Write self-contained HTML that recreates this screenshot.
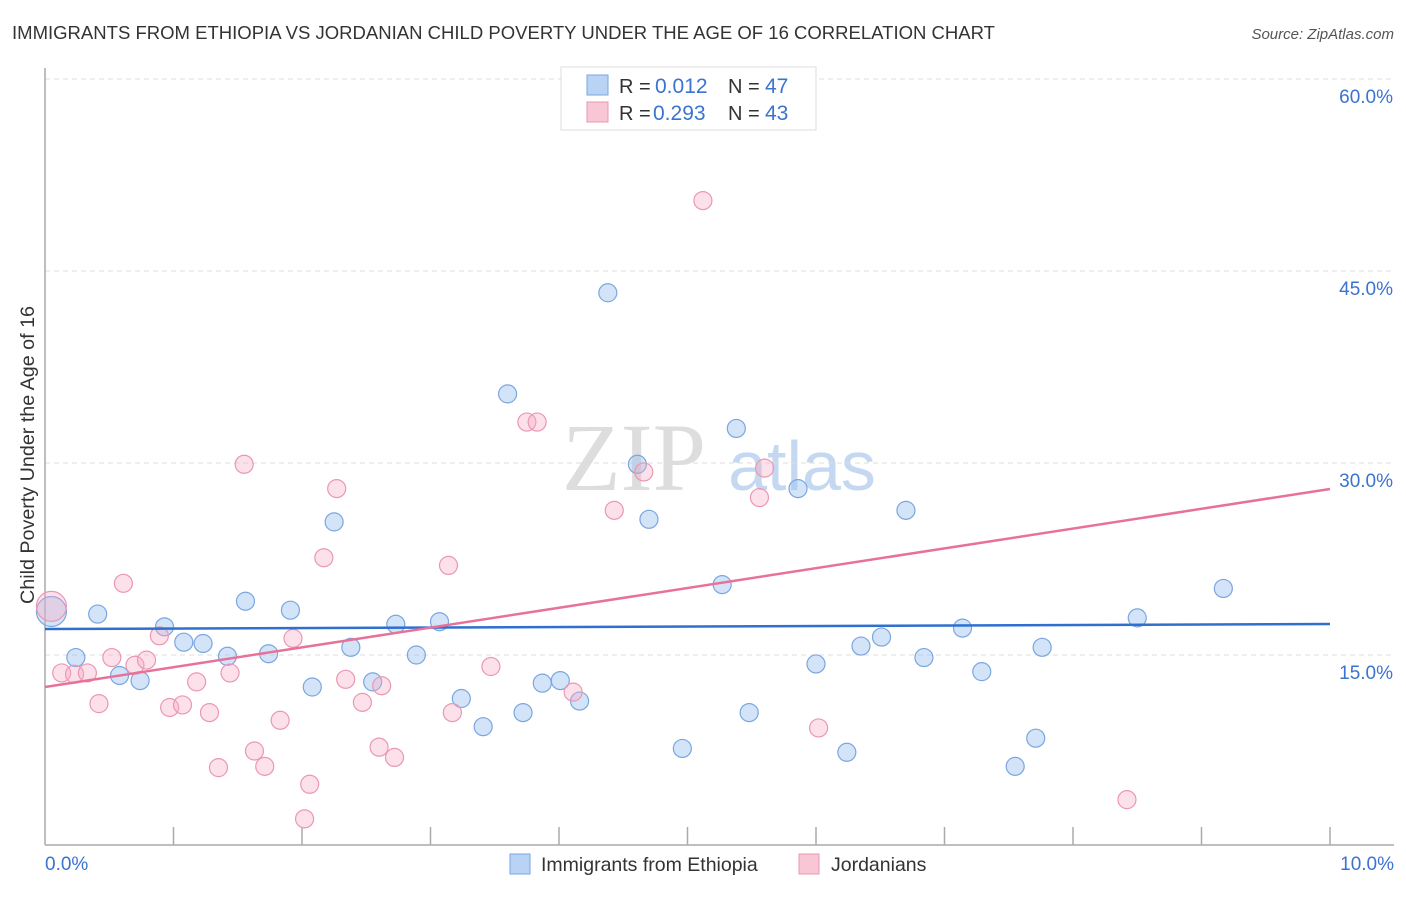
<!DOCTYPE html>
<html><head><meta charset="utf-8"><style>
body{margin:0;background:#fff;font-family:"Liberation Sans",sans-serif;}
svg text{font-family:"Liberation Sans",sans-serif;}
</style></head><body>
<svg id="chart" width="1406" height="892" xmlns="http://www.w3.org/2000/svg">
<text x="12" y="39" font-size="18" fill="#333" textLength="983" lengthAdjust="spacingAndGlyphs">IMMIGRANTS FROM ETHIOPIA VS JORDANIAN CHILD POVERTY UNDER THE AGE OF 16 CORRELATION CHART</text>
<text x="1394" y="39" font-size="15" fill="#555" text-anchor="end" font-style="italic">Source: ZipAtlas.com</text>
<g>
<text x="634" y="490" font-size="96" fill="#ddd" text-anchor="middle" font-family="Liberation Serif" style="font-family:'Liberation Serif',serif">ZIP</text>
<text x="802" y="490" font-size="70" fill="#c5d8f2" text-anchor="middle">atlas</text>
</g>
<g id="grid"></g>
<g id="axes"></g>
<g id="marks"></g>
<g>
<rect x="561" y="67" width="255" height="63" fill="#fff" stroke="#ddd"/>
<rect x="587" y="75" width="21" height="20" fill="#b9d3f5" stroke="#7aa6e0"/>
<rect x="587" y="102" width="21" height="20" fill="#f9c6d6" stroke="#eb97b4"/>
<text x="619" y="93" font-size="20" fill="#333">R =</text>
<text x="655" y="93" font-size="21" fill="#3b73d0">0.012</text>
<text x="728" y="93" font-size="20" fill="#333">N =</text>
<text x="765" y="93" font-size="21" fill="#3b73d0">47</text>
<text x="619" y="120" font-size="20" fill="#333">R =</text>
<text x="653" y="120" font-size="21" fill="#3b73d0">0.293</text>
<text x="728" y="120" font-size="20" fill="#333">N =</text>
<text x="765" y="120" font-size="21" fill="#3b73d0">43</text>
</g>
<g>
<rect x="510" y="854" width="20" height="20" fill="#b9d3f5" stroke="#7aa6e0"/>
<text x="541" y="871" font-size="19.5" fill="#333">Immigrants from Ethiopia</text>
<rect x="799" y="854" width="20" height="20" fill="#f9c6d6" stroke="#eb97b4"/>
<text x="831" y="871" font-size="19.5" fill="#333">Jordanians</text>
</g>
<text transform="translate(34,455) rotate(-90)" font-size="19" fill="#333" text-anchor="middle" textLength="298" lengthAdjust="spacingAndGlyphs">Child Poverty Under the Age of 16</text>
</svg>
<script>
const yTicks=[15,30,45,60];
const yTickLabels=["15.0%","30.0%","45.0%","60.0%"];
const xTickLabels=["0.0%","10.0%"];
const blueX=[0.05,0.24,0.41,0.58,0.74,0.93,1.08,1.23,1.42,1.56,1.74,1.91,2.08,2.25,2.38,2.55,2.73,2.89,3.07,3.24,3.41,3.60,3.72,3.87,4.01,4.16,4.38,4.61,4.70,4.96,5.27,5.38,5.48,5.86,6.00,6.24,6.35,6.51,6.70,6.84,7.14,7.29,7.55,7.71,7.76,8.50,9.17];
const blueY=[18.4,14.8,18.2,13.4,13.0,17.2,16.0,15.9,14.9,19.2,15.1,18.5,12.5,25.4,15.6,12.9,17.4,15.0,17.6,11.6,9.4,35.4,10.5,12.8,13.0,11.4,43.3,29.9,25.6,7.7,20.5,32.7,10.5,28.0,14.3,7.4,15.7,16.4,26.3,14.8,17.1,13.7,6.3,8.5,15.6,17.9,20.2];
const pinkX=[0.05,0.13,0.23,0.33,0.42,0.52,0.61,0.70,0.79,0.89,0.97,1.07,1.18,1.28,1.35,1.44,1.55,1.63,1.71,1.83,1.93,2.06,2.02,2.17,2.27,2.34,2.47,2.60,2.62,2.72,3.14,3.17,3.47,3.75,3.83,4.11,4.43,4.66,5.12,5.56,5.60,6.02,8.42];
const pinkY=[18.8,13.6,13.5,13.6,11.2,14.8,20.6,14.2,14.6,16.5,10.9,11.1,12.9,10.5,6.2,13.6,29.9,7.5,6.3,9.9,16.3,4.9,2.2,22.6,28.0,13.1,11.3,7.8,12.6,7.0,22.0,10.5,14.1,33.2,33.2,12.1,26.3,29.3,50.5,27.3,29.6,9.3,3.7];
const blueTrend=[17.03,17.42];
const pinkTrend=[12.5,27.97];
const NS="http://www.w3.org/2000/svg";
const X=v=>45+v*128.5;
const Y=v=>847-v*12.8;
function mk(tag,attrs,parent){const e=document.createElementNS(NS,tag);for(const k in attrs)e.setAttribute(k,attrs[k]);parent.appendChild(e);return e;}
const grid=document.getElementById('grid'),axes=document.getElementById('axes'),marks=document.getElementById('marks');
yTicks.forEach((t,i)=>{
  const l=mk('line',{x1:45,x2:1394,y1:Y(t),y2:Y(t),stroke:'#ddd','stroke-dasharray':'5,4'},grid);
  
  
  const tx=mk('text',{x:1393,y:Y(t)+24,'font-size':19,fill:'#3b73d0','text-anchor':'end'},axes);
  tx.textContent=yTickLabels[i];
  
  
});
const xa=mk('line',{x1:45,x2:1394,y1:845,y2:845,stroke:'#aaa','stroke-width':1.5},axes);


const ya=mk('line',{x1:45,x2:45,y1:68,y2:845,stroke:'#aaa','stroke-width':1.5},axes);


for(let i=1;i<=10;i++){
  const t=mk('line',{x1:X(i),x2:X(i),y1:827,y2:845,stroke:'#aaa','stroke-width':1.5},axes);
  
  
}
[[0,'start',45],[10,'end',1394]].forEach((a,i)=>{
  const t=mk('text',{x:a[2],y:870,'font-size':19,fill:'#3b73d0','text-anchor':a[1]},axes);
  t.textContent=xTickLabels[i];
  
  
});
function pts(xs,ys,fill,stroke,name){
  xs.forEach((x,i)=>{
    const c=mk('circle',{cx:X(x),cy:Y(ys[i]),r:i===0?15:9,fill:fill,stroke:stroke,'stroke-width':1.2},marks);
    
    
  });
}
pts(blueX,blueY,'rgba(160,196,240,0.45)','#7aa6e0','ethiopia-point');
pts(pinkX,pinkY,'rgba(245,170,196,0.35)','#eb97b4','jordanian-point');
const bl=mk('line',{x1:X(0),x2:X(10),y1:Y(blueTrend[0]),y2:Y(blueTrend[1]),stroke:'#2f6fd0','stroke-width':2.5},marks);


const pl=mk('line',{x1:X(0),x2:X(10),y1:Y(pinkTrend[0]),y2:Y(pinkTrend[1]),stroke:'#e8719a','stroke-width':2.5},marks);


</script>
</body></html>
